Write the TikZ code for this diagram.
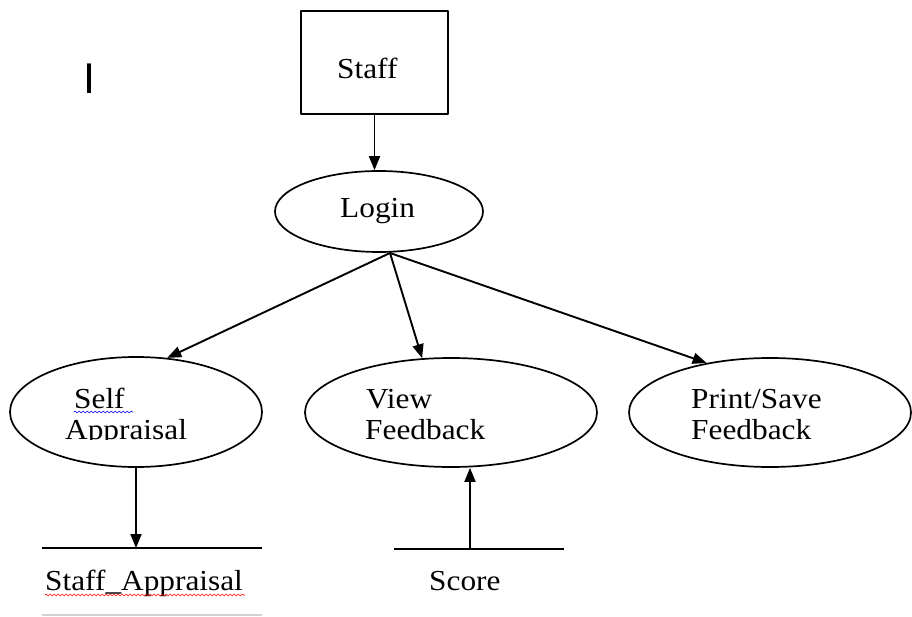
\documentclass[tikz,border=0pt]{standalone}
\usepackage{fontspec}
\usetikzlibrary{arrows.meta,shapes.geometric,decorations.pathmorphing}
\setmainfont{Liberation Serif}[FakeStretch=1.08]
\newfontfamily\barfont{Liberation Sans}
\begin{document}
\begin{tikzpicture}[x=1pt, y=-1pt, line join=round, font=\fontsize{29}{31}\selectfont,
		proc/.style={draw, ellipse, line width=1.7pt, inner sep=0pt},
		lbl/.style={anchor=base west, inner sep=0pt},
		flow/.style={line width=1.9pt, -{Triangle[length=14pt,width=11pt]}},
		squig/.style={decorate, decoration={snake, amplitude=1pt, segment length=4pt}, line width=0.6pt}]
	\useasboundingbox (0,0) rectangle (912,617);
	\node[anchor=base, inner sep=0pt, font=\barfont\fontsize{43}{43}\selectfont] (cursor) at (89,94) {I};
	% entity and login
	\node[draw, line width=1.9pt, minimum width=147pt, minimum height=103pt] (staff) at (374.5,62.5) {};
	\node[lbl] (stafftxt) at (337,79) {Staff};
	\node[proc, minimum width=208pt, minimum height=81pt] (login) at (379,211.5) {};
	\node[lbl] (logintxt) at (340,218) {Login};
	% processes
	\node[proc, minimum width=252pt, minimum height=110pt] (selfapp) at (136,412) {};
	\node[proc, minimum width=292pt, minimum height=109pt] (viewfb) at (451,412.5) {};
	\node[proc, minimum width=282pt, minimum height=109pt] (printfb) at (770,412.5) {};
	\node[lbl] (selftxt) at (74,408) {Self};
	\begin{scope}
		\clip (60,380) rectangle (200,439.5);
		\node[lbl] (apptxt) at (65,439) {Appraisal};
	\end{scope}
	\node[lbl] (viewtxt) at (366,408) {View};
	\node[lbl] (fbtxt) at (365,439) {Feedback};
	\node[lbl] (printtxt) at (691,408) {Print/Save};
	\node[lbl] (fbtxt2) at (691,439) {Feedback};
	% data stores
	\coordinate (st1) at (42,548);
	\coordinate (st2) at (262,548);
	\coordinate (sb1) at (42,615);
	\coordinate (sb2) at (262,615);
	\coordinate (sc1) at (394,549);
	\coordinate (sc2) at (564,549);
	\draw[line width=1.9pt] (st1) -- (st2);
	\draw[line width=1.5pt, gray!35] (sb1) -- (sb2);
	\draw[line width=1.9pt] (sc1) -- (sc2);
	\node[lbl] (storetxt) at (45,590) {Staff\_Appraisal};
	\node[lbl] (scoretxt) at (429,590) {Score};
	\draw[squig, blue] (74,412) -- (133,412);
	\draw[squig, red] (45,595) -- (245,595);
	% flows
	\coordinate (fork) at (390,253);
	\coordinate (stafftop) at (136,548);
	\coordinate (scoretop) at (470,549);
	\draw[flow] (staff.south) -- (staff.south |- login.north);
	\draw[flow] (fork) -- (selfapp.60);
	\draw[flow] (fork) -- (viewfb.118);
	\draw[flow] (fork) -- (printfb.142);
	\draw[flow] (selfapp.south) -- (stafftop);
	\draw[flow] (scoretop) -- (scoretop |- viewfb.south);
\end{tikzpicture}
\end{document}
